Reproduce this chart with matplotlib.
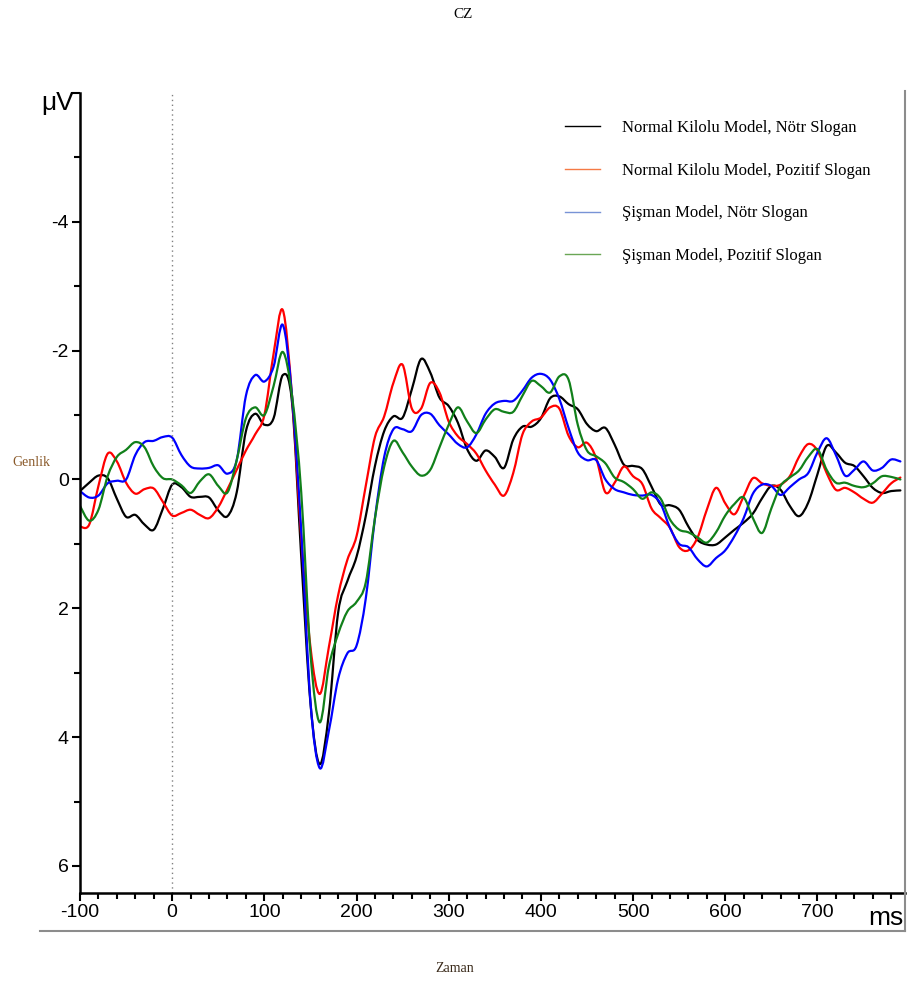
import numpy as np
import matplotlib.pyplot as plt
from matplotlib.lines import Line2D
from matplotlib.path import Path
from matplotlib.patches import PathPatch
from matplotlib.ticker import MultipleLocator
import matplotlib.transforms as mtransforms

# zaman ekseni (ms), 10 ms aralikla
zaman = np.arange(-100, 800, 10)

normal_notr = [0.18, 0.05, -0.06, -0.02, 0.3, 0.58, 0.55, 0.7, 0.78, 0.45,
               0.08, 0.12, 0.27, 0.27, 0.28, 0.48, 0.57, 0.2, -0.75, -1.02,
               -0.85, -0.95, -1.62, -1.2, 1.2, 3.47, 4.42, 3.63, 2.07, 1.58,
               1.2, 0.57, -0.21, -0.75, -0.98, -0.96, -1.4, -1.87, -1.66, -1.27,
               -1.14, -0.88, -0.47, -0.29, -0.45, -0.35, -0.18, -0.62, -0.82, -0.82,
               -0.95, -1.26, -1.29, -1.17, -1.09, -0.86, -0.75, -0.8, -0.54, -0.23,
               -0.21, -0.16, 0.11, 0.39, 0.4, 0.47, 0.73, 0.94, 1.01, 1.01,
               0.9, 0.78, 0.67, 0.53, 0.29, 0.1, 0.16, 0.41, 0.57, 0.36,
               -0.08, -0.52, -0.42, -0.26, -0.21, -0.05, 0.13, 0.21, 0.18, 0.17]

normal_pozitif = [0.73, 0.7, 0.1, -0.4, -0.28, 0.05, 0.22, 0.15, 0.14, 0.35,
                  0.56, 0.52, 0.47, 0.55, 0.6, 0.43, 0.15, -0.15, -0.45, -0.7,
                  -1.0, -1.95, -2.63, -1.3, 0.9, 2.6, 3.33, 2.6, 1.8, 1.25,
                  0.88, 0.1, -0.66, -0.98, -1.5, -1.78, -1.1, -1.1, -1.5, -1.35,
                  -0.9, -0.67, -0.55, -0.4, -0.14, 0.08, 0.25, -0.1, -0.7, -0.9,
                  -0.96, -1.12, -1.1, -0.68, -0.5, -0.57, -0.33, 0.2, 0.05, -0.2,
                  -0.05, 0.07, 0.45, 0.6, 0.75, 1.05, 1.1, 0.9, 0.47, 0.13,
                  0.37, 0.54, 0.26, -0.02, 0.06, 0.1, 0.08, -0.05, -0.35, -0.55,
                  -0.45, -0.1, 0.16, 0.13, 0.2, 0.3, 0.36, 0.22, 0.06, -0.03]

sisman_notr = [0.18, 0.28, 0.25, 0.06, 0.02, 0.0, -0.38, -0.58, -0.6, -0.66,
               -0.65, -0.38, -0.2, -0.17, -0.18, -0.22, -0.09, -0.3, -1.3, -1.62,
               -1.52, -1.75, -2.4, -1.3, 0.8, 3.45, 4.48, 3.9, 3.1, 2.7,
               2.58, 1.85, 0.6, -0.35, -0.78, -0.78, -0.75, -1.0, -1.02, -0.84,
               -0.7, -0.55, -0.5, -0.7, -1.02, -1.18, -1.22, -1.22, -1.38, -1.58,
               -1.64, -1.55, -1.25, -0.8, -0.42, -0.3, -0.3, 0.0, 0.15, 0.2,
               0.24, 0.25, 0.24, 0.38, 0.75, 1.0, 1.05, 1.24, 1.35, 1.22,
               1.1, 0.88, 0.6, 0.22, 0.08, 0.1, 0.24, 0.12, 0.0, -0.1,
               -0.42, -0.64, -0.38, -0.06, -0.15, -0.28, -0.14, -0.18, -0.31, -0.28]

sisman_pozitif = [0.41, 0.64, 0.47, -0.05, -0.35, -0.46, -0.58, -0.5, -0.2, -0.02,
                  0.0, 0.09, 0.21, 0.03, -0.08, 0.1, 0.2, -0.3, -0.95, -1.12,
                  -1.0, -1.45, -1.98, -1.3, 0.2, 2.7, 3.77, 2.9, 2.4, 2.05,
                  1.9, 1.6, 0.6, -0.2, -0.6, -0.42, -0.2, -0.06, -0.15, -0.5,
                  -0.85, -1.12, -0.9, -0.72, -0.93, -1.09, -1.05, -1.05, -1.3, -1.53,
                  -1.45, -1.35, -1.6, -1.55, -0.85, -0.45, -0.36, -0.25, -0.03, 0.04,
                  0.15, 0.3, 0.2, 0.3, 0.62, 0.78, 0.82, 0.9, 0.98, 0.82,
                  0.56, 0.38, 0.28, 0.6, 0.83, 0.45, 0.1, -0.03, -0.14, -0.35,
                  -0.47, -0.15, 0.05, 0.05, 0.1, 0.12, 0.06, -0.05, -0.04, 0.0]

etiketler = ['Normal Kilolu Model, Nötr Slogan',
             'Normal Kilolu Model, Pozitif Slogan',
             'Şişman Model, Nötr Slogan',
             'Şişman Model, Pozitif Slogan']
renkler = ['#000000', '#ff0000', '#0000ff', '#11801a']
lejant_renk = ['#000000', '#f57a45', '#7893d6', '#6aa655']

plt.rcParams['font.family'] = ['Liberation Sans', 'DejaVu Sans']
plt.rcParams['axes.unicode_minus'] = False
serif = ['Liberation Serif', 'DejaVu Serif']


def egri(x, y):
    # olcum noktalarindan gecen yumusak (Catmull-Rom / Bezier) yol
    x = np.asarray(x, float)
    y = np.asarray(y, float)
    xp = np.r_[x[0], x, x[-1]]
    yp = np.r_[y[0], y, y[-1]]
    verts = [(x[0], y[0])]
    codes = [Path.MOVETO]
    for i in range(len(x) - 1):
        c1 = (x[i] + (xp[i + 2] - xp[i]) / 6, y[i] + (yp[i + 2] - yp[i]) / 6)
        c2 = (x[i + 1] - (xp[i + 3] - xp[i + 1]) / 6, y[i + 1] - (yp[i + 3] - yp[i + 1]) / 6)
        verts += [c1, c2, (x[i + 1], y[i + 1])]
        codes += [Path.CURVE4] * 3
    return Path(verts, codes)


fig = plt.figure(figsize=(9.09, 9.81), dpi=100)
ax = fig.add_axes([80 / 909, 1 - 893 / 981, 825 / 909, 800 / 981])

for seri, renk in zip([normal_notr, normal_pozitif, sisman_notr, sisman_pozitif], renkler):
    ax.add_patch(PathPatch(egri(zaman, seri), fill=False, edgecolor=renk, lw=1.6,
                           joinstyle='round', capstyle='round'))

ax.axvline(0, color='#808080', lw=1, ls=(0, (1, 2.5)))

ax.set_xlim(-100, 795)
ax.set_ylim(6.42, -6.0)

ax.set_xticks(np.arange(-100, 800, 100))
ax.xaxis.set_minor_locator(MultipleLocator(20))
ax.set_yticks([-6, -4, -2, 0, 2, 4, 6], ['', '-4', '-2', '0', '2', '4', '6'])
ax.yaxis.set_minor_locator(MultipleLocator(1))
ax.tick_params(which='major', length=6, width=1.5, labelsize=14, pad=2)
ax.tick_params(which='minor', length=4, width=1.5)

for s in ['top', 'right']:
    ax.spines[s].set_visible(False)
for s in ['left', 'bottom']:
    ax.spines[s].set_linewidth(1.8)

# birim etiketleri eksen uclarinda
tr = mtransforms.blended_transform_factory(ax.transAxes, ax.transData)
ax.text(-0.007, -5.85, 'μV', transform=tr, ha='right', va='center', fontsize=19)
ax.text(0.998, -0.04, 'ms', transform=ax.transAxes, ha='right', va='baseline', fontsize=19)

tutamaclar = [Line2D([], [], color=c, lw=1) for c in lejant_renk]
ax.legend(tutamaclar, etiketler, loc='upper left', bbox_to_anchor=(0.57, 0.985),
          frameon=False, handlelength=2.1, handletextpad=1.3, labelspacing=1.6,
          prop={'family': serif, 'size': 12})

fig.text(463 / 909, 1 - 15 / 981, 'CZ', ha='center', va='center', family=serif, fontsize=11)
fig.text(31 / 909, 1 - 463 / 981, 'Genlik', ha='center', va='center', family=serif,
         fontsize=10, color='#8a5a2a')
fig.text(455 / 909, 1 - 968 / 981, 'Zaman', ha='center', va='center', family=serif,
         fontsize=10, color='#3a2a1a')

# cerceve cizgileri (sag ve alt)
fig.add_artist(Line2D([905 / 909, 905 / 909], [1 - 91 / 981, 1 - 931 / 981],
                      transform=fig.transFigure, color='#8c8c8c', lw=1.5))
fig.add_artist(Line2D([40 / 909, 905 / 909], [1 - 931 / 981, 1 - 931 / 981],
                      transform=fig.transFigure, color='#8c8c8c', lw=1.5))

fig.savefig('out.png', dpi=100)
plt.close(fig)
